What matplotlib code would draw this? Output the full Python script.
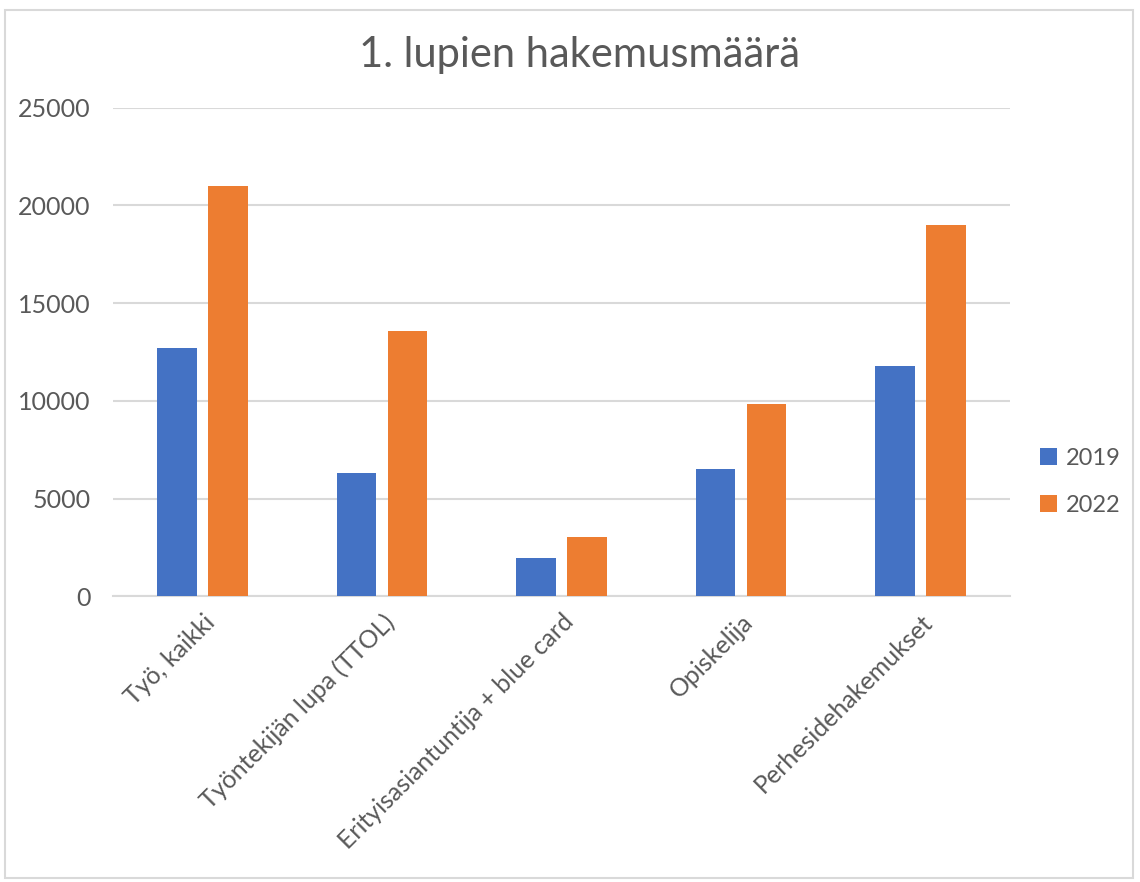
import numpy as np
import matplotlib.pyplot as plt
from matplotlib.patches import Rectangle

categories = ['Työ, kaikki', 'Työntekijän lupa (TTOL)', 'Erityisasiantuntija + blue card',
              'Opiskelija', 'Perhesidehakemukset']
v2019 = [12700, 6300, 1950, 6500, 11780]
v2022 = [21000, 13550, 3010, 9860, 19000]
yticks = [0, 5000, 10000, 15000, 20000, 25000]

plt.rcParams['font.family'] = ['Lato', 'DejaVu Sans']
grey = '#595959'

fig = plt.figure(figsize=(11.4, 8.82), dpi=100)
ax = fig.add_axes([0.099, 0.324, 0.787, 0.554])

x = np.arange(len(categories))
w = 0.22
ax.bar(x - 0.142, v2019, w, color='#4472c4', label='2019', zorder=3)
ax.bar(x + 0.142, v2022, w, color='#ed7d31', label='2022', zorder=3)

ax.set_xlim(-0.5, len(categories) - 0.5)
ax.set_ylim(0, 25000)
ax.set_yticks(yticks)
ax.set_yticklabels([str(t) for t in yticks], color=grey, fontsize=18)
ax.yaxis.grid(True, color='#d9d9d9', linewidth=1.5, zorder=0)
ax.tick_params(axis='both', length=0)
ax.tick_params(axis='y', pad=16)
ax.set_xticks(x)
ax.set_xticklabels(categories, rotation=45, ha='right', rotation_mode='anchor',
                   color=grey, fontsize=18)
ax.tick_params(axis='x', pad=10)
for s in ['top', 'right', 'left']:
    ax.spines[s].set_visible(False)
ax.spines['bottom'].set_color('#d9d9d9')
ax.spines['bottom'].set_linewidth(1.5)

fig.text(0.508, 0.938, '1. lupien hakemusmäärä', ha='center', va='center',
         fontsize=30, color=grey)

leg = ax.legend(loc='center left', bbox_to_anchor=(1.01, 0.234), frameon=False,
                fontsize=17, handlelength=0.7, handleheight=0.7, labelspacing=1.1,
                handletextpad=0.4)
for t in leg.get_texts():
    t.set_color(grey)

fig.patches.append(Rectangle((0.004, 0.004), 0.99, 0.985, transform=fig.transFigure,
                             fill=False, edgecolor='#d9d9d9', linewidth=1.5))

fig.savefig('out.png', dpi=100)
